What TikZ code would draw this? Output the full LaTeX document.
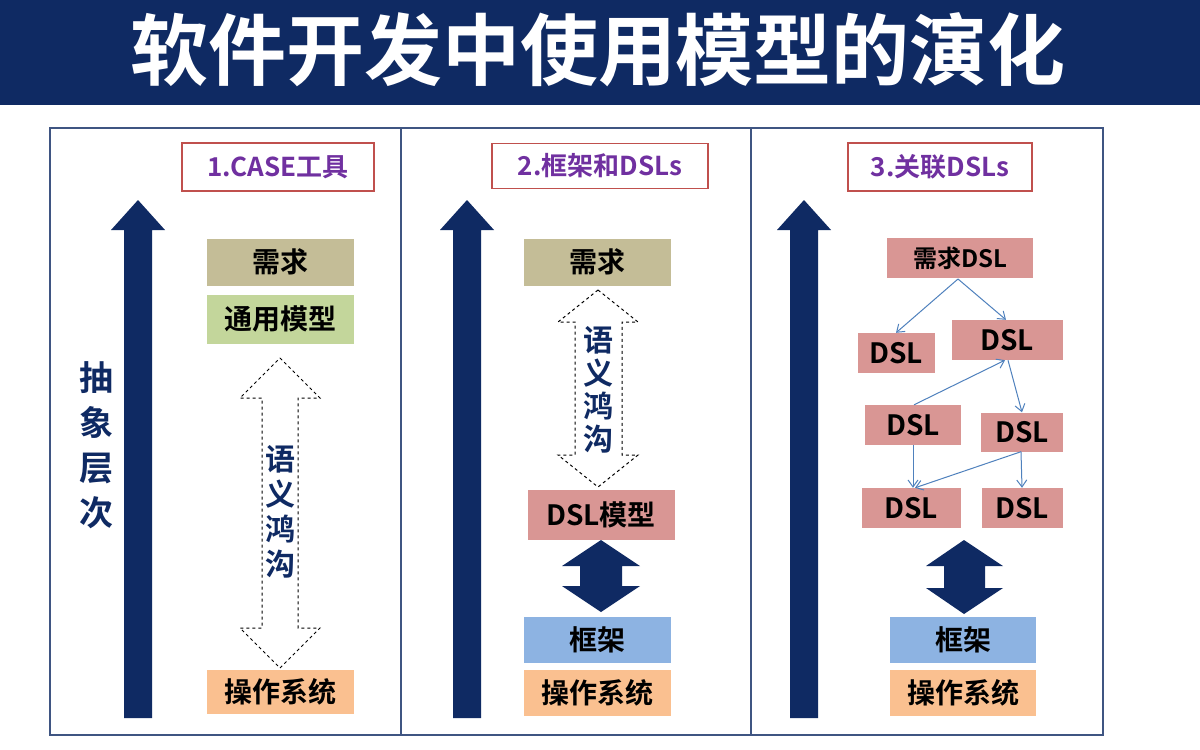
\documentclass[tikz,border=0pt]{standalone}
\usepackage{fontspec}
\setmainfont{Noto Sans CJK SC}[BoldFont={* Bold}]
\usetikzlibrary{shapes.arrows,arrows.meta}
\definecolor{navy}{HTML}{0F2A63}
\definecolor{tan}{HTML}{C4BD97}
\definecolor{grn}{HTML}{C3D69B}
\definecolor{org}{HTML}{FAC090}
\definecolor{pnk}{HTML}{D99694}
\definecolor{blu}{HTML}{8DB3E2}
\definecolor{lbr}{HTML}{C0504D}
\definecolor{pur}{HTML}{7030A0}
\definecolor{con}{HTML}{4F81BD}
\begin{document}
\begin{tikzpicture}[x=1pt,y=-1pt,
 box/.style={inner sep=0pt,font=\bfseries\fontsize{28}{28}\selectfont},
 lab/.style={draw=lbr,line width=1.5pt,fill=white,inner sep=0pt,text=pur,font=\bfseries\fontsize{26}{26}\selectfont},
 con/.style={draw=con,line width=1pt,-{Straight Barb[length=7pt,width=10pt]}},
 vt/.style={text=navy,font=\bfseries\fontsize{34}{36}\selectfont,align=center,inner sep=0pt}]
\useasboundingbox (0,0) rectangle (1200,750);
\fill[white] (0,0) rectangle (1200,750);
\fill[navy] (0,0) rectangle (1200,105);
\node[text=white,font=\bfseries\fontsize{78}{78}\selectfont] (title) at (598,50) {软件开发中使用模型的演化};
\draw[navy!80,line width=1.5pt] (50,128) rectangle (1103,735) (401,128)--(401,735) (751,128)--(751,735);
% labels
\node[lab,minimum width=192pt,minimum height=48pt] (l1) at (278,167) {1.CASE工具};
\node[lab,minimum width=216pt,minimum height=45pt] (l2) at (600,166) {2.框架和DSLs};
\node[lab,minimum width=184pt,minimum height=48pt] (l3) at (940,167) {3.关联DSLs};
% big up arrows
\foreach \xa/\n in {138/u1,467/u2,804/u3}
  \fill[navy] (\xa-27,230)--(\xa,200)--(\xa+27,230)--(\xa+14,230)--(\xa+14,718)--(\xa-14,718)--(\xa-14,230)--cycle;
\node[vt,font=\bfseries\fontsize{34}{45}\selectfont] (abs) at (96,445) {抽\\象\\层\\次};
% panel 1
\node[box,fill=tan,minimum width=147pt,minimum height=47pt] (r1) at (280,262) {需求};
\node[box,fill=grn,minimum width=147pt,minimum height=49pt] (g1) at (280,319) {通用模型};
\node[box,fill=org,minimum width=147pt,minimum height=44pt] (o1) at (280,692) {操作系统};
\draw[dashed,line width=1pt,fill=white] (280,358)--(320,398)--(298,398)--(298,628)--(320,628)--(280,668)--(240,628)--(262,628)--(262,398)--(240,398)--cycle;
\node[vt,font=\bfseries\fontsize{30}{35}\selectfont] (s1) at (280,512) {语\\义\\鸿\\沟};
% panel 2
\node[box,fill=tan,minimum width=147pt,minimum height=47pt] (r2) at (597,262) {需求};
\draw[dashed,line width=1pt,fill=white] (598,290)--(638,322)--(622,322)--(622,455)--(638,455)--(598,487)--(558,455)--(575,455)--(575,322)--(558,322)--cycle;
\node[vt,font=\bfseries\fontsize{30}{33}\selectfont] (s2) at (598,390) {语\\义\\鸿\\沟};
\node[box,fill=pnk,minimum width=147pt,minimum height=50pt] (d2) at (601,515) {DSL模型};
\fill[navy] (601,540)--(640,566)--(622,566)--(622,586)--(640,586)--(601,612)--(562,586)--(580,586)--(580,566)--(562,566)--cycle;
\node[box,fill=blu,minimum width=147pt,minimum height=46pt] (f2) at (597,640) {框架};
\node[box,fill=org,minimum width=147pt,minimum height=46pt] (o2) at (597,693) {操作系统};
% panel 3
\node[box,fill=pnk,minimum width=146pt,minimum height=40pt,font=\bfseries\fontsize{24}{24}\selectfont] (q) at (960,258) {需求DSL};
\node[box,fill=pnk,minimum width=77pt,minimum height=40pt] (a1) at (896,353) {DSL};
\node[box,fill=pnk,minimum width=111pt,minimum height=40pt] (a2) at (1007,340) {DSL};
\node[box,fill=pnk,minimum width=96pt,minimum height=40pt] (a3) at (913,425) {DSL};
\node[box,fill=pnk,minimum width=82pt,minimum height=39pt] (a4) at (1022,432) {DSL};
\node[box,fill=pnk,minimum width=99pt,minimum height=40pt] (a5) at (911,508) {DSL};
\node[box,fill=pnk,minimum width=81pt,minimum height=40pt] (a6) at (1022,508) {DSL};
\coordinate (qb) at (958,279);
\draw[con] (qb) -- (a1.north);
\draw[con] (qb) -- ([xshift=-1pt]a2.north);
\draw[con] ([xshift=1pt]a3.north) -- ([xshift=-2pt]a2.south);
\draw[con] ([xshift=1pt]a2.south) -- ([xshift=0pt]a4.north);
\draw[con] (a3.south) -- ([xshift=2pt]a5.north);
\draw[con] ([xshift=-1pt]a4.south) -- ([xshift=4pt]a5.north);
\draw[con] ([xshift=-1pt]a4.south) -- (a6.north);
\fill[navy] (964,540)--(1003,566)--(985,566)--(985,588)--(1003,588)--(964,614)--(926,588)--(944,588)--(944,566)--(926,566)--cycle;
\node[box,fill=blu,minimum width=146pt,minimum height=46pt] (f3) at (963,640) {框架};
\node[box,fill=org,minimum width=146pt,minimum height=46pt] (o3) at (963,693) {操作系统};
\end{tikzpicture}
\end{document}
